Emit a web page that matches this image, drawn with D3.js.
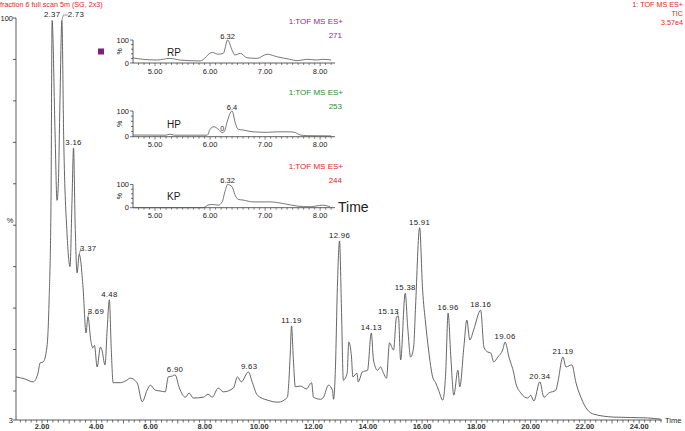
<!DOCTYPE html>
<html><head><meta charset="utf-8">
<script src="https://cdn.jsdelivr.net/npm/d3@7"></script>
<style>body{margin:0;background:#fff} svg{display:block;font-family:"Liberation Sans",Arial,sans-serif}</style>
</head><body>
<svg id="c" width="685" height="431"></svg>
<script>
// ---------- DATA ----------
const mainTime = [1.04,1.37,1.67,1.85,1.93,2.04,2.18,2.26,2.33,2.37,2.48,2.55,2.60,2.66,2.73,2.80,2.92,3.03,3.10,3.16,3.22,3.29,3.37,3.51,3.62,3.69,3.80,3.87,3.93,4.03,4.15,4.20,4.32,4.40,4.48,4.55,4.62,4.88,5.10,5.25,5.50,5.69,5.87,5.99,6.17,6.35,6.54,6.65,6.80,6.90,7.06,7.28,7.42,7.57,7.94,8.12,8.27,8.49,8.68,9.05,9.20,9.34,9.60,9.75,9.93,10.30,10.70,11.04,11.08,11.15,11.19,11.26,11.33,11.52,11.74,11.93,12.00,12.26,12.37,12.55,12.70,12.74,12.81,12.88,12.96,13.03,13.10,13.24,13.30,13.40,13.45,13.60,13.65,13.80,13.99,14.13,14.21,14.36,14.47,14.58,14.69,14.80,14.95,15.06,15.13,15.21,15.38,15.47,15.58,15.69,15.76,15.91,16.02,16.13,16.24,16.39,16.50,16.61,16.76,16.87,16.96,17.06,17.17,17.32,17.39,17.54,17.65,17.76,17.90,18.16,18.28,18.42,18.53,18.64,18.79,18.97,19.06,19.20,19.38,19.45,19.64,19.90,20.00,20.12,20.34,20.49,20.67,20.93,21.00,21.19,21.30,21.52,21.67,21.85,22.10,22.33,23.07,24.30,24.80];
const mainPct  = [13.4,12.9,12.2,14.3,16.8,17.0,20.6,32,56,99.4,72,56,60,80,99.4,70,48,40,55,68.6,50,38.5,43,35,24,27.9,22,20.4,21,15.8,20.6,20,16.3,25,32,20,12,12,12.5,13.1,12,7.4,10.2,11.4,10.2,10,9.8,13.4,13.6,13.9,10.7,8.5,9.5,8.3,8.5,9.2,8.5,10.7,9.8,10.7,13.4,12.2,14.6,12,9,7.8,7.3,8.5,11,19.9,25.7,17.5,11,11.2,10.5,12,8.5,8,8.5,11.4,10.2,8,15.8,35,46.2,30,12.6,14.3,21.8,18.2,13.4,14.3,12.2,14.6,15,24,17.5,15,15.8,14.3,13.1,21.6,19.9,27.9,27.9,17.5,33.6,25.5,18.2,20.6,30.3,49.4,34.4,26.4,19.9,13.4,12,10.2,7.8,14.3,28.8,18.2,9,15,11,20.6,27.1,22.3,24.7,29.5,20.6,19.4,19.2,17,18.2,19.9,21.8,18.2,14.3,12,9.5,8.3,9,7.6,12.2,8.5,9.5,10.2,12,18.2,15.8,16.3,12,8.5,5.4,4.4,3.7,3.5,3.2];

const peakTimes = [2.37,2.73,3.16,3.37,3.69,4.48,6.90,9.63,11.19,12.96,14.13,15.13,15.38,15.91,16.96,18.16,19.06,20.34,21.19];
const peakText  = ["2.37","2.73","3.16","3.37","3.69","4.48","6.90","9.63","11.19","12.96","14.13","15.13","15.38","15.91","16.96","18.16","19.06","20.34","21.19"];

const mainXTickLabels = ["2.00","4.00","6.00","8.00","10.00","12.00","14.00","16.00","18.00","20.00","22.00","24.00"];
const mainXTickValues = [2,4,6,8,10,12,14,16,18,20,22,24];
const mainYTickValues = [10,20,30,40,50,60,70,80,90,100];

const headerLeft = "fraction 6 full scan 5m (SG, 2x3)";
const headerRight = ["1: TOF MS ES+","TIC","3.57e4"];

const insetNames = ["RP","HP","KP"];
const insetMass  = ["271","253","244"];
const insetTitle = "1:TOF MS ES+";
const insetPeakTimes = [6.32,6.40,6.32];
const insetPeakText  = ["6.32","6.4","6.32"];
const insetXTickValues = [5,6,7,8];
const insetXTickLabels = ["5.00","6.00","7.00","8.00"];

const rpTime = [4.60,4.78,5.04,5.27,5.45,5.82,6.04,6.15,6.24,6.32,6.40,6.45,6.55,6.67,6.85,7.04,7.22,7.45,7.58,7.76,7.94,8.05,8.20];
const rpPct  = [22,16,13,20,13,9,46,38,42,100,56,35,42,23,20,38,27,16,10,16,13,16,13];
const hpTime = [4.60,5.20,5.27,5.35,5.95,6.00,6.07,6.15,6.22,6.26,6.31,6.40,6.46,6.51,6.60,6.78,7.04,7.22,7.45,7.55,7.64,7.76,8.20];
const hpPct  = [6.5,6,10,6,6,29,39,29,16,20,58,100,52,29,26,19,17,19,19,16,6.5,4,3];
const kpTime = [4.60,5.87,5.96,6.04,6.15,6.22,6.27,6.32,6.40,6.45,6.51,6.60,6.78,7.09,7.33,7.58,7.82,8.04,8.18];
const kpPct  = [0,0,11,14,11,25,69,100,90,57,36,33,25,25,18,7,4,11,4];

// ---------- LAYOUT ----------
const svg = d3.select("#c");
const red = "#e3231c", txt = "#222", axisCol = "#333", lineCol = "#555";
const x = d3.scaleLinear().domain([1.04, 24.84]).range([16, 662]);
const y = d3.scaleLinear().domain([3, 100]).range([420, 18]);

// header
svg.append("text").attr("x",0).attr("y",7).attr("font-size",7.2).attr("fill",red).text(headerLeft);
headerRight.forEach((s,i)=>svg.append("text").attr("x",683).attr("y",7+i*9).attr("text-anchor","end")
  .attr("font-size",7.2).attr("fill",red).text(s));

// main axes
const g = svg.append("g");
g.append("line").attr("x1",x.range()[0]).attr("x2",x.range()[0]).attr("y1",y(100)).attr("y2",y(3)).attr("stroke",axisCol).attr("stroke-width",0.8);
g.append("line").attr("x1",x.range()[0]).attr("x2",x.range()[1]).attr("y1",y(3)).attr("y2",y(3)).attr("stroke",axisCol).attr("stroke-width",0.8);
mainYTickValues.concat([3]).forEach(v=>g.append("line").attr("x1",x.range()[0]-3).attr("x2",x.range()[0]).attr("y1",y(v)).attr("y2",y(v)).attr("stroke",axisCol).attr("stroke-width",0.8));
d3.range(1.2, 24.81, 0.2).forEach(v=>{
  const major = Math.abs(v-Math.round(v))<0.01;
  g.append("line").attr("x1",x(v)).attr("x2",x(v)).attr("y1",y(3)).attr("y2",y(3)+(major?3.5:2.5)).attr("stroke",axisCol).attr("stroke-width",0.7);
});
mainXTickValues.forEach((v,i)=>g.append("text").attr("x",x(v)).attr("y",431-2).attr("text-anchor","middle")
  .attr("font-size",7.5).attr("font-weight","bold").attr("fill","#333").text(mainXTickLabels[i]));
g.append("text").attr("x",13).attr("y",y(100)+2.5).attr("text-anchor","end").attr("font-size",7.5).attr("fill",txt).text("100");
g.append("text").attr("x",13).attr("y",y(3)+3).attr("text-anchor","end").attr("font-size",7.5).attr("fill",txt).text("3");
g.append("text").attr("x",10).attr("y",223).attr("text-anchor","middle").attr("font-size",7.5).attr("fill",txt).text("%");
g.append("text").attr("x",665).attr("y",423).attr("font-size",7.5).attr("fill",txt).text("Time");

// main trace
const mainData = mainTime.map((t,i)=>[t, mainPct[i]]);
g.append("path").datum(mainData).attr("fill","none").attr("stroke",lineCol).attr("stroke-width",0.9)
  .attr("d", d3.line().curve(d3.curveMonotoneX).x(d=>x(d[0])).y(d=>y(d[1])));

// peak labels
const labelDx = {"2.73":14,"3.37":9,"3.69":8,"15.13":-10};
peakTimes.forEach((t,i)=>{
  let best = mainData.reduce((a,b)=>Math.abs(b[0]-t)<Math.abs(a[0]-t)?b:a);
  const px = x(t), py = y(best[1]);
  const dx = labelDx[peakText[i]] || 0;
  const lx = px + dx, ly = py - 3;
  if (dx) {
    const ex = dx>0 ? lx-8 : lx+8;
    g.append("path").attr("d",`M${px},${py} L${px+(dx>0?1.5:-1.5)},${ly-2.5} L${ex},${ly-2.5}`)
      .attr("fill","none").attr("stroke","#555").attr("stroke-width",0.6);
  }
  g.append("text").attr("x",lx).attr("y",ly).attr("text-anchor","middle").attr("font-size",7.8)
    .attr("letter-spacing",0.3).attr("fill",txt).text(peakText[i]);
});

// ---------- INSETS ----------
const insetColors = ["#8a2c8c","#2a8a2c","#e3231c"];
const insetTops = [40,111,184.5], insetBots = [63,136.7,207.7];
const insetData = [[rpTime,rpPct],[hpTime,hpPct],[kpTime,kpPct]];
const ix = d3.scaleLinear().domain([4.6, 8.27]).range([133, 335]);
insetNames.forEach((name,k)=>{
  const iy = d3.scaleLinear().domain([0,100]).range([insetBots[k], insetTops[k]]);
  const ig = svg.append("g");
  ig.append("line").attr("x1",133).attr("x2",133).attr("y1",iy(100)).attr("y2",iy(0)).attr("stroke",axisCol).attr("stroke-width",0.8);
  ig.append("line").attr("x1",133).attr("x2",335).attr("y1",iy(0)).attr("y2",iy(0)).attr("stroke",axisCol).attr("stroke-width",0.8);
  [0,20,40,60,80,100].forEach(v=>ig.append("line").attr("x1",v%100===0?130:131).attr("x2",133).attr("y1",iy(v)).attr("y2",iy(v)).attr("stroke",axisCol).attr("stroke-width",0.7));
  d3.range(4.7, 8.26, 0.1).forEach(v=>{
    const major = Math.abs(v-Math.round(v))<0.01;
    ig.append("line").attr("x1",ix(v)).attr("x2",ix(v)).attr("y1",iy(0)).attr("y2",iy(0)+(major?3:2)).attr("stroke",axisCol).attr("stroke-width",0.6);
  });
  insetXTickValues.forEach((v,i)=>ig.append("text").attr("x",ix(v)).attr("y",iy(0)+10.5).attr("text-anchor","middle")
    .attr("font-size",7.5).attr("fill",txt).text(insetXTickLabels[i]));
  ig.append("text").attr("x",129).attr("y",iy(100)+2.5).attr("text-anchor","end").attr("font-size",7.5).attr("fill",txt).text("100");
  ig.append("text").attr("x",129).attr("y",iy(0)+2.5).attr("text-anchor","end").attr("font-size",7.5).attr("fill",txt).text("0");
  const my = (iy(0)+iy(100))/2;
  ig.append("text").attr("transform",`translate(122,${my}) rotate(-90)`).attr("text-anchor","middle").attr("font-size",7).attr("fill",txt).text("%");
  ig.append("text").attr("x",167).attr("y",iy(50)+4).attr("font-size",10).attr("fill",txt).text(name);
  ig.append("text").attr("x",343).attr("y",insetTops[k]-16).attr("text-anchor","end").attr("font-size",8).attr("fill",insetColors[k]).text(insetTitle);
  ig.append("text").attr("x",342).attr("y",insetTops[k]-2).attr("text-anchor","end").attr("font-size",8).attr("fill",insetColors[k]).text(insetMass[k]);
  const dat = insetData[k][0].map((t,i)=>[t, insetData[k][1][i]]);
  ig.append("path").datum(dat).attr("fill","none").attr("stroke",lineCol).attr("stroke-width",0.8)
    .attr("d", d3.line().curve(d3.curveMonotoneX).x(d=>ix(d[0])).y(d=>iy(d[1])));
  ig.append("text").attr("x",ix(insetPeakTimes[k])).attr("y",iy(100)-1.5).attr("text-anchor","middle").attr("font-size",7.5).attr("fill",txt).text(insetPeakText[k]);
  if (name==="HP") ig.append("text").attr("x",ix(6.22)).attr("y",iy(16)-1.5).attr("text-anchor","middle").attr("font-size",7).attr("fill",txt).text("0");
  if (name==="RP") ig.append("rect").attr("x",98).attr("y",iy(50)-3).attr("width",6).attr("height",6).attr("fill","#7a1f7e");
  if (name==="KP") ig.append("text").attr("x",338).attr("y",iy(0)+4.5).attr("font-size",14).attr("fill",txt).text("Time");
});
</script>
</body></html>
